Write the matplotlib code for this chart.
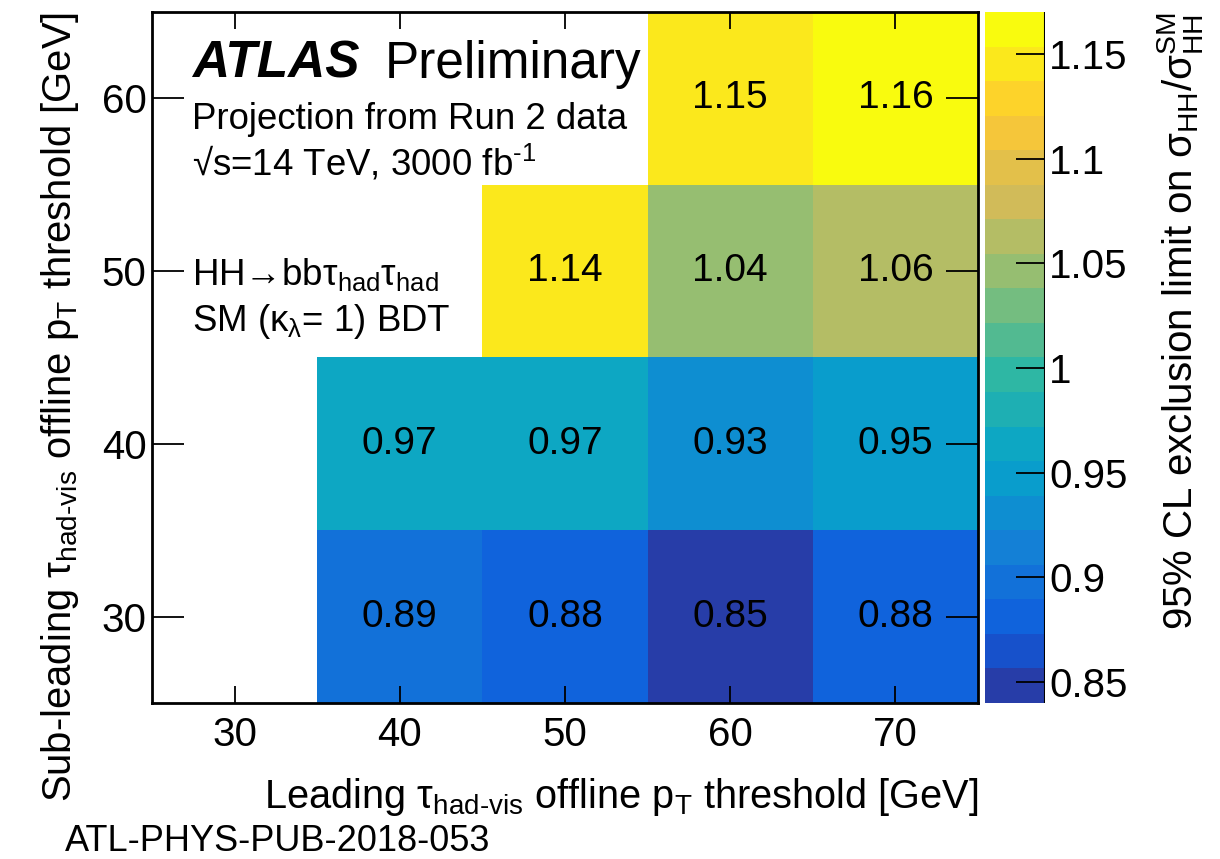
import numpy as np
import matplotlib
matplotlib.use("Agg")
import matplotlib.pyplot as plt
from matplotlib.colors import LinearSegmentedColormap, ListedColormap, BoundaryNorm
from matplotlib.ticker import FuncFormatter

# Leading / sub-leading tau pT thresholds (bin centres, GeV)
lead_pt = [30, 40, 50, 60, 70]
sublead_pt = [30, 40, 50, 60]

# 95% CL limits per (sub-leading row, leading column); None = not evaluated
limit_row_30 = [None, 0.89, 0.88, 0.85, 0.88]
limit_row_40 = [None, 0.97, 0.97, 0.93, 0.95]
limit_row_50 = [None, None, 1.14, 1.04, 1.06]
limit_row_60 = [None, None, None, 1.15, 1.16]

cbar_ticks = [0.85, 0.9, 0.95, 1.0, 1.05, 1.1, 1.15]
z_min, z_max, n_levels = 0.84, 1.17, 20

plt.rcParams['font.family'] = ['Liberation Sans', 'DejaVu Sans']
plt.rcParams['mathtext.fontset'] = 'custom'
plt.rcParams['mathtext.rm'] = 'Liberation Sans'
plt.rcParams['mathtext.it'] = 'Liberation Sans:italic'
plt.rcParams['mathtext.bf'] = 'Liberation Sans:bold'

# ROOT kBird palette, 255 colours, sampled into 20 contour bands
stops = [0.0, 0.125, 0.25, 0.375, 0.5, 0.625, 0.75, 0.875, 1.0]
red = [0.2082, 0.0592, 0.0780, 0.0232, 0.1802, 0.5301, 0.8186, 0.9956, 0.9764]
green = [0.1664, 0.3599, 0.5041, 0.6419, 0.7178, 0.7492, 0.7328, 0.7862, 0.9832]
blue = [0.5293, 0.8684, 0.8385, 0.7914, 0.6425, 0.4662, 0.3499, 0.1968, 0.0539]
bird = LinearSegmentedColormap.from_list(
    "bird", [(s, (r, g, b)) for s, r, g, b in zip(stops, red, green, blue)], N=255)
band_cols = [bird(int((k + 0.99) * 255 / n_levels) / 254.0) for k in range(n_levels)]
cmap = ListedColormap(band_cols)
bounds = np.linspace(z_min, z_max, n_levels + 1)
norm = BoundaryNorm(bounds, cmap.N)

rows = [limit_row_30, limit_row_40, limit_row_50, limit_row_60]
Z = np.array([[np.nan if v is None else v for v in r] for r in rows], dtype=float)
Zm = np.ma.masked_invalid(Z)

x_edges = np.array(lead_pt + [lead_pt[-1] + 10]) - 5
y_edges = np.array(sublead_pt + [sublead_pt[-1] + 10]) - 5

W, H = 1220, 859
fig = plt.figure(figsize=(W / 100, H / 100), dpi=100)
ax = fig.add_axes([152 / W, 1 - 703 / H, 826 / W, 691 / H])
cax = fig.add_axes([985 / W, 1 - 703 / H, 60 / W, 691 / H])

mesh = ax.pcolormesh(x_edges, y_edges, Zm, cmap=cmap, norm=norm)
for i, yc in enumerate(sublead_pt):
    for j, xc in enumerate(lead_pt):
        if not np.isnan(Z[i, j]):
            ax.text(xc, yc, f"{Z[i, j]:.2f}", ha="center", va="center",
                    fontsize=28, color="black")

ax.set_xlim(25, 75)
ax.set_ylim(25, 65)
ax.set_xticks(lead_pt)
ax.set_yticks(sublead_pt)
ax.tick_params(axis="x", direction="in", length=12, width=1.3, top=True,
               labelsize=29, pad=9)
ax.tick_params(axis="y", direction="in", length=23, width=1.3, right=True,
               labelsize=29, pad=4)
ax.tick_params(which="minor", length=0)
for s in ax.spines.values():
    s.set_linewidth(2)

ax.set_xlabel(r"Leading τ$_{\text{had-vis}}$ offline p$_{\mathrm{T}}$ threshold [GeV]",
              fontsize=28.6, loc="right", labelpad=16)
ax.set_ylabel(r"Sub-leading τ$_{\text{had-vis}}$ offline p$_{\mathrm{T}}$ threshold [GeV]",
              fontsize=28.8, loc="top", labelpad=15)

# Colour palette axis
cb = fig.colorbar(mesh, cax=cax, ticks=cbar_ticks, drawedges=False)
cb.outline.set_visible(False)
cax.yaxis.set_major_formatter(FuncFormatter(lambda v, p: f"{v:g}"))
cax.tick_params(axis="y", direction="in", length=21, width=1.3, labelsize=29, pad=3)
cax.minorticks_off()
cax.axvline(1.0, color="black", lw=1.5)
cb.set_label(r"95% CL exclusion limit on σ$_{\mathrm{HH}}$/σ$_{\mathrm{HH}}^{\mathrm{SM}}$",
             fontsize=29, loc="top", labelpad=20)

# ATLAS label block
ax.text(0.048, 0.905, "ATLAS", transform=ax.transAxes, fontsize=37,
        fontweight="bold", fontstyle="italic", va="baseline")
ax.text((385 - 152) / 826, 0.905, "Preliminary", transform=ax.transAxes, fontsize=37,
        va="baseline")
ax.text(0.048, 0.830, "Projection from Run 2 data", transform=ax.transAxes,
        fontsize=26.4, va="baseline")
ax.text(0.048, 0.763, r"√s=14 TeV, 3000 fb$^{\text{-1}}$", transform=ax.transAxes,
        fontsize=26.4, va="baseline")
ax.text(0.048, 0.605, r"HH→bbτ$_{\mathrm{had}}$τ$_{\mathrm{had}}$", transform=ax.transAxes,
        fontsize=26.4, va="baseline")
ax.text(0.048, 0.538, r"SM (κ$_{\mathrm{λ}}$= 1) BDT", transform=ax.transAxes,
        fontsize=26.4, va="baseline")

fig.text(65 / W, 1 - 851 / H, "ATL-PHYS-PUB-2018-053", fontsize=26, va="baseline")

fig.savefig("out.png", dpi=100)
